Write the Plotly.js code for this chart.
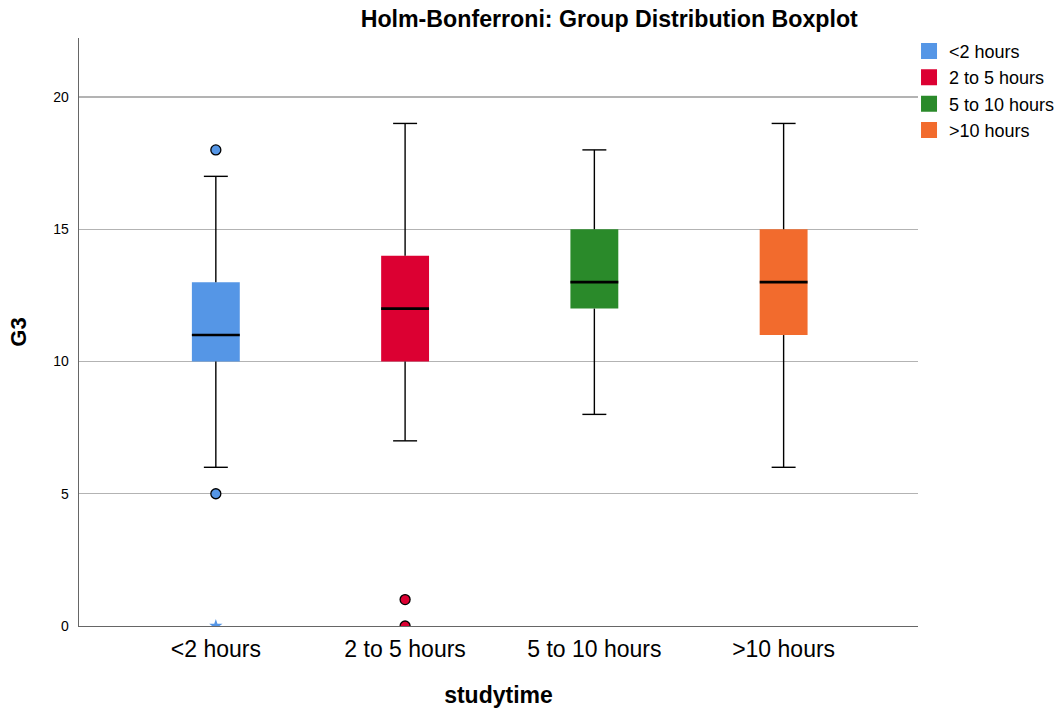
<!DOCTYPE html>
<html>
<head>
<meta charset="utf-8">
<script src="https://cdn.plot.ly/plotly-3.0.1.min.js"></script>
<style>html,body{margin:0;padding:0;background:#fff;}#chart{width:1064px;height:713px;}</style>
</head>
<body>
<div id="chart"></div>
<script>
// ---- data ----
var categories = ["<2 hours", "2 to 5 hours", "5 to 10 hours", ">10 hours"];
var colors = ["#5596e6", "#dc0032", "#2a8a2a", "#f26b2d"];
var lowerWhisker = [6, 7, 8, 6];
var q1 = [10, 10, 12, 11];
var median = [11, 12, 13, 13];
var q3 = [13, 14, 15, 15];
var upperWhisker = [17, 19, 18, 19];
var outlierGroup = [0, 0, 1, 1];
var outlierValue = [18, 5, 1, 0];
var extremeGroup = [0];
var extremeValue = [0];
var yTicks = [0, 5, 10, 15, 20];

// ---- style ----
var boxW = 0.253, capHalf = 0.0633;
var font = "Liberation Sans, Arial, sans-serif";
var traces = [];

categories.forEach(function (c, i) {
  traces.push({
    type: "bar", name: c, x: [i], base: [q1[i]], y: [q3[i] - q1[i]],
    width: boxW, marker: {color: colors[i], line: {width: 0}},
    hoverinfo: "skip", showlegend: false
  });
});
categories.forEach(function (c, i) {
  traces.push({
    type: "scatter", mode: "lines", showlegend: false, hoverinfo: "skip",
    x: [i, i, null, i, i, null, i - capHalf, i + capHalf, null, i - capHalf, i + capHalf],
    y: [q3[i], upperWhisker[i], null, q1[i], lowerWhisker[i], null,
        upperWhisker[i], upperWhisker[i], null, lowerWhisker[i], lowerWhisker[i]],
    line: {color: "#000", width: 1.4}
  });
  traces.push({
    type: "scatter", mode: "lines", showlegend: false, hoverinfo: "skip",
    x: [i - boxW / 2, i + boxW / 2], y: [median[i], median[i]],
    line: {color: "#000", width: 2.6}
  });
});
traces.push({
  type: "scatter", mode: "markers", showlegend: false, hoverinfo: "skip",
  x: outlierGroup, y: outlierValue,
  marker: {symbol: "circle", size: 10, color: outlierGroup.map(function (g) { return colors[g]; }),
           line: {color: "#000", width: 1.3}}
});
traces.push({
  type: "scatter", mode: "markers", showlegend: false, hoverinfo: "skip",
  x: extremeGroup, y: extremeValue,
  marker: {symbol: "star", size: 10, color: extremeGroup.map(function (g) { return colors[g]; }),
           line: {width: 0}}
});
// legend entries (square swatches)
categories.forEach(function (c, i) {
  traces.push({
    type: "scatter", mode: "markers", name: c, x: [null], y: [null], showlegend: true,
    hoverinfo: "skip", marker: {symbol: "square", size: 18, color: colors[i], line: {width: 0}}
  });
});

var layout = {
  width: 1064, height: 713,
  margin: {l: 79, r: 146, t: 38, b: 87, pad: 0, autoexpand: false},
  paper_bgcolor: "#fff", plot_bgcolor: "#fff",
  font: {family: font, color: "#000"},
  barmode: "overlay",
  showlegend: true,
  title: {text: "<b>Holm-Bonferroni: Group Distribution Boxplot</b>", font: {size: 23.2, family: font},
          xref: "paper", x: 0.632, xanchor: "center", yref: "container", y: 0.973, yanchor: "middle"},
  xaxis: {
    range: [-0.723, 3.71], tickvals: [0, 1, 2, 3], ticktext: categories,
    showgrid: false, zeroline: false, showline: true, linecolor: "#666", linewidth: 1.3,
    ticks: "", tickfont: {size: 23, family: font}, ticklabelstandoff: 2, fixedrange: true,
    title: {text: "<b>studytime</b>", font: {size: 23, family: font}, standoff: 26}
  },
  yaxis: {
    range: [0, 22.23], tickvals: yTicks, ticktext: yTicks.map(String),
    showgrid: true, gridcolor: "#b3b3b3", gridwidth: 1.2, zeroline: false,
    showline: true, linecolor: "#666", linewidth: 1.3, ticks: "",
    tickfont: {size: 14, family: font}, ticklabelstandoff: 6,
    title: {text: "<b>G3</b>", font: {size: 22, family: font}, standoff: 20}
  },
  legend: {x: 0.9893, y: 1.009, xanchor: "left", yanchor: "top", font: {size: 18, family: font},
           tracegroupgap: 0, itemwidth: 30, itemsizing: "trace", bgcolor: "rgba(0,0,0,0)"}
};

Plotly.newPlot("chart", traces, layout, {displayModeBar: false, staticPlot: true});
</script>
</body>
</html>
